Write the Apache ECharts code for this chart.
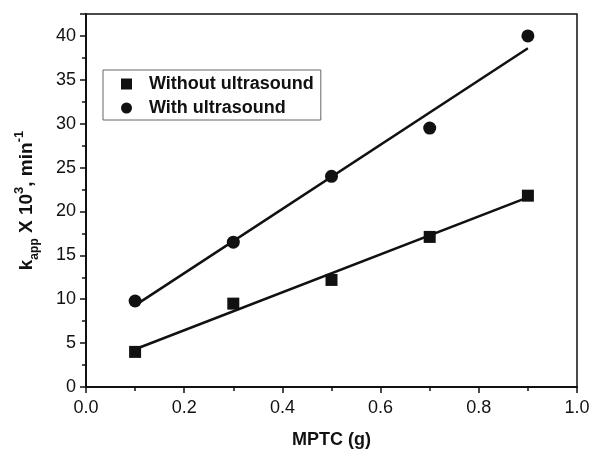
<!DOCTYPE html>
<html>
<head>
<meta charset="utf-8">
<script src="https://cdn.jsdelivr.net/npm/echarts@6/dist/echarts.min.js"></script>
<style>html,body{margin:0;padding:0;background:#fff;}#c{width:594px;height:454px;}</style>
</head>
<body>
<div id="c"></div>
<script>
var mptc = [0.1, 0.3, 0.5, 0.7, 0.9];
var withoutUltrasound = [4.0, 9.5, 12.2, 17.1, 21.8];
var withUltrasound = [9.8, 16.5, 24.0, 29.5, 40.0];
var fitWithoutX = [0.1, 0.9];
var fitWithoutY = [4.3, 21.6];
var fitWithX = [0.1, 0.9];
var fitWithY = [9.3, 38.6];
var seriesNames = ['Without ultrasound', 'With ultrasound'];

function pairs(xs, ys) { return xs.map(function (x, i) { return [x, ys[i]]; }); }

var chart = echarts.init(document.getElementById('c'), null, {renderer: 'canvas'});
var font = 'Liberation Sans, Arial, sans-serif';
chart.setOption({
  animation: false,
  backgroundColor: '#fff',
  grid: {left: 86, right: 17, top: 14, bottom: 65, show: true, borderColor: '#111', borderWidth: 1.5, backgroundColor: 'transparent'},
  legend: {
    left: 103, top: 70, orient: 'vertical', itemGap: 6,
    padding: [5, 7, 3, 18],
    borderColor: '#666', borderWidth: 1,
    itemWidth: 11, itemHeight: 11,
    textStyle: {fontFamily: font, fontWeight: 'bold', fontSize: 18, color: '#111', padding: [0, 0, 0, 12]},
    data: [
      {name: seriesNames[0], icon: 'rect', itemStyle: {color: '#111', opacity: 1}},
      {name: seriesNames[1], icon: 'circle', itemStyle: {color: '#111', opacity: 1}}
    ]
  },
  xAxis: {
    type: 'value', min: 0, max: 1.0, interval: 0.2,
    name: 'MPTC (g)', nameLocation: 'middle', nameGap: 44,
    nameTextStyle: {fontFamily: font, fontWeight: 'bold', fontSize: 18, color: '#111'},
    axisLine: {show: true, lineStyle: {color: '#111', width: 2}},
    axisTick: {show: true, length: 6, lineStyle: {color: '#111', width: 1.5}},
    minorTick: {show: true, splitNumber: 2, length: 4, lineStyle: {color: '#111', width: 1.5}},
    splitLine: {show: false},
    axisLabel: {fontFamily: font, fontSize: 18, color: '#111', margin: 12, formatter: function (v) { return v.toFixed(1); }}
  },
  yAxis: {
    type: 'value', min: 0, max: 42.5, interval: 5,
    name: '{b|k}{sub|app}{b| X 10}{sup|3}{b|, min}{sup|-1}', nameLocation: 'middle', nameGap: 45, nameRotate: 90,
    nameTextStyle: {
      fontFamily: font, fontWeight: 'bold', fontSize: 19, color: '#111',
      rich: {
        b: {fontFamily: font, fontWeight: 'bold', fontSize: 19, color: '#111', lineHeight: 28, verticalAlign: 'middle'},
        sub: {fontFamily: font, fontWeight: 'bold', fontSize: 12, color: '#111', lineHeight: 28, verticalAlign: 'bottom'},
        sup: {fontFamily: font, fontWeight: 'bold', fontSize: 13, color: '#111', lineHeight: 28, verticalAlign: 'top'}
      }
    },
    axisLine: {show: true, lineStyle: {color: '#111', width: 2}},
    axisTick: {show: true, length: 6, lineStyle: {color: '#111', width: 1.5}},
    minorTick: {show: true, splitNumber: 2, length: 4, lineStyle: {color: '#111', width: 1.5}},
    splitLine: {show: false},
    axisLabel: {fontFamily: font, fontSize: 18, color: '#111', margin: 10, showMaxLabel: false}
  },
  series: [
    {name: seriesNames[0], type: 'scatter', symbol: 'rect', symbolSize: 12, itemStyle: {color: '#111', opacity: 1}, data: pairs(mptc, withoutUltrasound), z: 3},
    {name: seriesNames[1], type: 'scatter', symbol: 'circle', symbolSize: 13, itemStyle: {color: '#111', opacity: 1}, data: pairs(mptc, withUltrasound), z: 3},
    {name: 'fit1', type: 'line', showSymbol: false, symbol: 'none', lineStyle: {color: '#111', width: 2.5}, data: pairs(fitWithoutX, fitWithoutY), z: 2},
    {name: 'fit2', type: 'line', showSymbol: false, symbol: 'none', lineStyle: {color: '#111', width: 2.5}, data: pairs(fitWithX, fitWithY), z: 2}
  ]
});
</script>
</body>
</html>
